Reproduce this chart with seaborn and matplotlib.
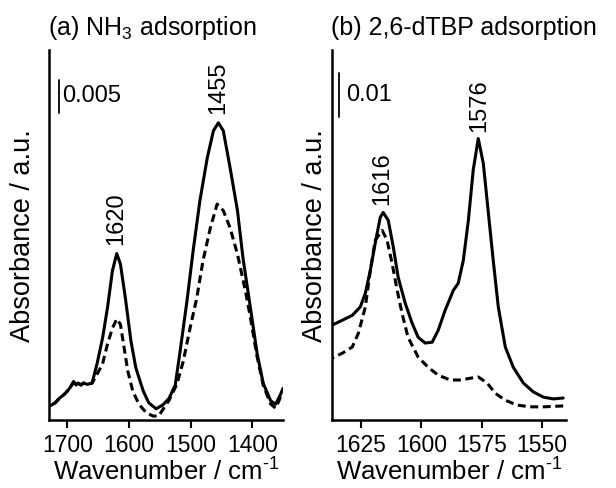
import numpy as np
import pandas as pd
import seaborn as sns
import matplotlib
matplotlib.use("Agg")
import matplotlib.pyplot as plt

# (a) NH3 adsorption, absorbance in units of 0.001
nh3_wn_solid = [1729, 1720, 1713, 1705, 1700, 1695, 1690, 1686, 1683, 1678, 1674, 1668, 1660,
                1652, 1643, 1635, 1627, 1620, 1614, 1606, 1597, 1589, 1577, 1568, 1556,
                1545, 1535, 1525, 1517, 1506, 1496, 1485, 1473, 1463, 1455, 1447, 1436,
                1424, 1415, 1403, 1392, 1382, 1370, 1362, 1354, 1350]
nh3_abs_solid = [2.1, 2.6, 3.3, 3.9, 4.4, 5.0, 5.8, 5.3, 5.6, 5.3, 5.6, 5.4, 5.6,
                 8.5, 12.4, 17.0, 22.6, 25.2, 23.6, 18.5, 12.0, 7.9, 4.4, 2.6, 1.7,
                 2.3, 3.3, 5.3, 10.5, 18.0, 25.6, 33.2, 39.7, 43.8, 45.0, 43.8, 38.2,
                 31.7, 24.5, 17.0, 10.0, 5.5, 2.9, 2.4, 3.9, 4.8]
nh3_wn_dash = [1729, 1720, 1713, 1705, 1700, 1695, 1690, 1686, 1683, 1678, 1674, 1668, 1660,
               1655, 1643, 1635, 1627, 1620, 1614, 1609, 1602, 1594, 1584, 1572, 1561,
               1552, 1545, 1535, 1522, 1512, 1501, 1490, 1480, 1468, 1457, 1447, 1436,
               1424, 1411, 1403, 1392, 1382, 1370, 1362, 1354]
nh3_abs_dash = [2.1, 2.6, 3.3, 3.9, 4.4, 5.0, 5.8, 5.3, 5.6, 5.3, 5.6, 5.4, 5.6,
                6.4, 8.5, 11.5, 13.9, 15.3, 14.5, 11.5, 7.4, 4.4, 2.4, 1.1, 0.6,
                0.6, 1.6, 3.0, 5.5, 8.9, 13.9, 18.5, 24.1, 29.1, 32.7, 31.7, 29.1,
                25.1, 19.5, 15.5, 9.5, 5.2, 2.4, 1.8, 3.5]

# (b) 2,6-dTBP adsorption, absorbance in units of 0.001
tbp_wn_solid = [1636.9, 1632.7, 1628.6, 1625.3, 1623.2, 1621.1, 1619.1, 1617.0, 1615.8, 1613.7,
                1611.6, 1609.6, 1606.7, 1603.8, 1601.3, 1598.4, 1595.5, 1593.0, 1590.1, 1586.7,
                1584.7, 1582.6, 1580.5, 1578.5, 1576.4, 1574.3, 1572.2, 1570.2, 1568.1, 1565.2,
                1561.9, 1557.7, 1553.6, 1549.4, 1545.3, 1541.2]
tbp_abs_solid = [21.6, 22.7, 23.8, 25.7, 28.8, 34.1, 40.2, 46.1, 47.2, 45.4,
                 39.3, 32.5, 26.6, 22.0, 18.8, 17.5, 17.7, 20.4, 25.0, 29.5,
                 31.1, 36.3, 45.4, 56.8, 64.0, 58.3, 47.0, 36.3, 25.7, 16.6,
                 12.0, 8.4, 6.4, 5.2, 4.8, 5.0]
tbp_wn_dash = [1636.9, 1632.7, 1628.6, 1626.1, 1623.2, 1621.1, 1619.1, 1616.2, 1614.2, 1612.1,
               1610.0, 1608.0, 1605.5, 1601.3, 1597.2, 1593.0, 1588.0, 1583.9, 1579.7, 1576.4,
               1572.7, 1569.4, 1565.2, 1560.3, 1554.9, 1549.4, 1541.2]
tbp_abs_dash = [14.1, 15.2, 16.6, 19.7, 25.7, 34.1, 40.9, 43.1, 40.9, 35.6,
                29.5, 24.3, 18.8, 14.3, 12.0, 10.2, 9.1, 9.1, 9.5, 9.8,
                8.4, 6.1, 4.5, 3.4, 3.0, 3.0, 3.2]

peaks_a = [1620, 1455]
peaks_b = [1616, 1576]

sns.set_style("ticks")
plt.rcParams["font.family"] = ["Liberation Sans", "DejaVu Sans"]
plt.rcParams["mathtext.fontset"] = "custom"
plt.rcParams["mathtext.rm"] = "Liberation Sans"
plt.rcParams["mathtext.it"] = "Liberation Sans:italic"
for key in ["text.color", "axes.labelcolor", "xtick.color", "ytick.color", "axes.edgecolor"]:
    plt.rcParams[key] = "black"

fig = plt.figure(figsize=(6.16, 4.88), dpi=100)
ax_a = fig.add_axes([0.0795, 0.1393, 0.380, 0.758])
ax_b = fig.add_axes([0.539, 0.1393, 0.380, 0.758])


def draw(ax, wn_s, ab_s, wn_d, ab_d):
    sns.lineplot(x=wn_s, y=ab_s, ax=ax, color="black", lw=2.2, estimator=None)
    sns.lineplot(x=wn_d, y=ab_d, ax=ax, color="black", lw=2.2, estimator=None)
    ax.lines[-1].set_dashes((2.6, 1.5))


def label_peaks(ax, wn, ab, peaks, off):
    s = pd.Series(ab, index=wn)
    for p in peaks:
        near = s[(s.index > p - 6) & (s.index < p + 6)]
        ax.annotate(str(p), xy=(p, near.max()), xytext=(0, off), textcoords="offset points",
                    rotation=90, ha="center", va="bottom", fontsize=17)


draw(ax_a, nh3_wn_solid, nh3_abs_solid, nh3_wn_dash, nh3_abs_dash)
draw(ax_b, tbp_wn_solid, tbp_abs_solid, tbp_wn_dash, tbp_abs_dash)

ax_a.set_xlim(1730, 1350)
ax_a.set_ylim(0, 56)
ax_a.set_xticks([1700, 1600, 1500, 1400])
ax_b.set_xlim(1637, 1540)
ax_b.set_ylim(0, 84.1)
ax_b.set_xticks([1625, 1600, 1575, 1550])

label_peaks(ax_a, nh3_wn_solid, nh3_abs_solid, peaks_a, 6)
label_peaks(ax_b, tbp_wn_solid, tbp_abs_solid, peaks_b, 5)

# scale bars
ax_a.plot([1714.5, 1714.5], [46.5, 51.5], color="black", lw=1.3)
ax_a.text(1708, 49, "0.005", fontsize=17, va="center", ha="left")
ax_b.plot([1634, 1634], [68.8, 78.8], color="black", lw=1.3)
ax_b.text(1631, 73.8, "0.01", fontsize=17, va="center", ha="left")

for ax, title, pad in [(ax_a, "(a) NH$_3$ adsorption", 9), (ax_b, "(b) 2,6-dTBP adsorption", 3)]:
    sns.despine(ax=ax)
    ax.spines["left"].set_linewidth(1.8)
    ax.spines["bottom"].set_linewidth(1.8)
    ax.set_yticks([])
    ax.tick_params(axis="x", length=6, width=1.5, labelsize=16.5, pad=4)
    ax.set_xlabel(r"Wavenumber / cm$^{\text{-1}}$", fontsize=18.5, labelpad=1)
    ax.set_ylabel("Absorbance / a.u.", fontsize=19.5, labelpad=pad)
    ax.set_title(title, fontsize=18, loc="left", x=-0.005, pad=11)

fig.savefig("out.png", dpi=100)
